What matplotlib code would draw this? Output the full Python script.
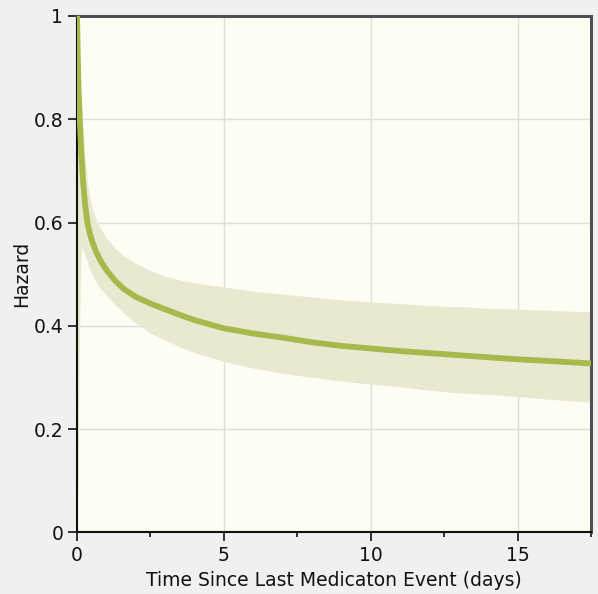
import matplotlib
matplotlib.use("Agg")
import matplotlib.pyplot as plt
from matplotlib.ticker import MultipleLocator, FormatStrFormatter

# Estimated hazard since the last medication event
time_days = [0.0, 0.02, 0.05, 0.1, 0.15, 0.2, 0.27, 0.36, 0.43, 0.5, 0.65, 0.8, 1.0,
             1.3, 1.6, 2.0, 2.5, 3.0, 3.5, 4.0, 5.0, 6.0, 7.0, 8.0, 9.0, 10.0,
             11.0, 12.0, 13.0, 14.0, 15.0, 16.0, 17.5]
hazard = [1.0, 0.94, 0.86, 0.79, 0.73, 0.685, 0.637, 0.598, 0.58, 0.566, 0.543, 0.526,
          0.508, 0.487, 0.471, 0.456, 0.443, 0.432, 0.421, 0.411, 0.395, 0.385, 0.377,
          0.368, 0.361, 0.356, 0.351, 0.347, 0.343, 0.339, 0.335, 0.332, 0.327]

# Confidence band limits
band_time = [0.0, 0.03, 0.05, 0.08, 0.1, 0.13, 0.17, 0.18, 0.25, 0.27, 0.35, 0.41,
             0.5, 0.65, 0.8, 1.0, 1.3, 1.6, 2.0, 2.5, 3.0, 3.5, 4.0, 5.0, 6.0, 7.0,
             8.0, 9.0, 10.0, 11.0, 12.0, 13.0, 14.0, 15.0, 16.0, 17.5]
band_upper = [1.0, 0.99, 0.98, 0.93, 0.9, 0.85, 0.81, 0.8, 0.745, 0.73, 0.68, 0.657,
              0.632, 0.606, 0.588, 0.570, 0.550, 0.535, 0.521, 0.507, 0.496, 0.489,
              0.483, 0.475, 0.467, 0.461, 0.456, 0.450, 0.446, 0.443, 0.439, 0.437,
              0.434, 0.432, 0.430, 0.427]
band_lower = [0.0, 0.1, 0.2, 0.35, 0.44, 0.53, 0.552, 0.551, 0.54, 0.537, 0.524,
              0.513, 0.501, 0.485, 0.472, 0.459, 0.440, 0.424, 0.405, 0.386, 0.372,
              0.359, 0.348, 0.331, 0.318, 0.308, 0.300, 0.293, 0.287, 0.282, 0.275,
              0.270, 0.267, 0.263, 0.258, 0.252]

x_label = "Time Since Last Medicaton Event (days)"
y_label = "Hazard"

plt.rcParams["font.family"] = ["DejaVu Sans"]

fig = plt.figure(figsize=(5.98, 5.94), dpi=100, facecolor="#f1f0ee")
ax = fig.add_axes([0.1288, 0.1039, 0.8595, 0.8692])
ax.set_facecolor("#fdfdf3")

ax.fill_between(band_time, band_lower, band_upper, color="#e9e9d2", lw=0, zorder=2)
ax.plot(time_days, hazard, color="#a8b94b", lw=4.2, solid_capstyle="butt",
        solid_joinstyle="round", zorder=3)

ax.set_xlim(0, 17.5)
ax.set_ylim(0, 1)
ax.xaxis.set_major_locator(MultipleLocator(5))
ax.xaxis.set_minor_locator(MultipleLocator(2.5))
ax.yaxis.set_major_locator(MultipleLocator(0.2))
ax.xaxis.set_major_formatter(FormatStrFormatter("%g"))
ax.yaxis.set_major_formatter(FormatStrFormatter("%g"))

ax.grid(True, which="major", color="#dedede", lw=1.0, zorder=1)
ax.set_axisbelow(True)

for side in ("left", "bottom"):
    ax.spines[side].set_color("#111111")
    ax.spines[side].set_linewidth(1.5)
for side in ("top", "right"):
    ax.spines[side].set_color("#505050")
    ax.spines[side].set_linewidth(2.2)

ax.tick_params(which="major", direction="out", length=6.5, width=1.3, color="#222222",
               labelsize=13.5, labelcolor="#111111", pad=3.5)
ax.tick_params(which="minor", direction="out", length=3.5, width=1.3, color="#222222")

ax.set_xlabel(x_label, fontsize=13.5, color="#111111", labelpad=4)
ax.set_ylabel(y_label, fontsize=13.5, color="#111111", labelpad=1.5)

fig.savefig("out.png", dpi=100, facecolor=fig.get_facecolor())
